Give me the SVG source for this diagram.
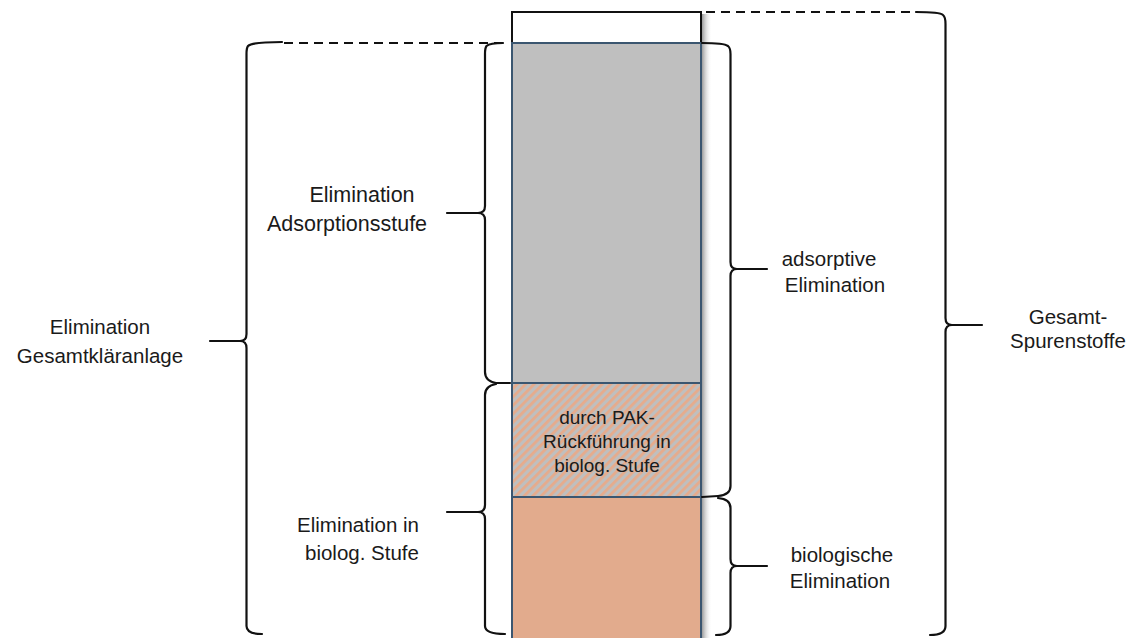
<svg xmlns="http://www.w3.org/2000/svg" width="1130" height="638" viewBox="0 0 1130 638">
  <style>
    .lbl { font-family: "Liberation Sans", Arial, sans-serif; font-size: 20.5px; fill: #1a1a1a; text-anchor: middle; }
    .big { font-size: 21.5px; }
    .inner { font-family: "Liberation Sans", Arial, sans-serif; font-size: 19px; fill: #1a1a1a; text-anchor: middle; }
    .brace { fill: none; stroke: #111; stroke-width: 2.2; stroke-linejoin: round; stroke-linecap: round; }
    .dash { fill: none; stroke: #111; stroke-width: 2; stroke-dasharray: 9 6; }
    .seg { stroke: #3b5670; stroke-width: 2; }
  </style>
  <defs>
    <pattern id="hatch" width="6" height="6" patternUnits="userSpaceOnUse" patternTransform="rotate(45)">
      <rect width="6" height="6" fill="#bfbfbf"/>
      <rect width="2.8" height="6" fill="#e6ab8c"/>
    </pattern>
    <linearGradient id="shade" x1="0" y1="0" x2="1" y2="0">
      <stop offset="0" stop-color="#7a7a7a" stop-opacity="0.75"/>
      <stop offset="1" stop-color="#ffffff" stop-opacity="0"/>
    </linearGradient>
  </defs>

  <rect width="1130" height="638" fill="#ffffff"/>

  <!-- stacked column -->
  <g id="column">
    <rect x="702" y="14" width="10" height="624" fill="url(#shade)"/>
    <rect id="total-box" x="512" y="12" width="189" height="31" fill="#ffffff" stroke="#111" stroke-width="2"/>
    <rect id="adsorptive" class="seg" x="512" y="43" width="189" height="340" fill="#bfbfbf"/>
    <rect id="recirculation" class="seg" x="512" y="383" width="189" height="114" fill="url(#hatch)"/>
    <rect id="biological" class="seg" x="512" y="497" width="189" height="145" fill="#e2ab8d"/>
    <text class="inner" x="607" y="424">durch PAK-</text>
    <text class="inner" x="607" y="448">Rückführung in</text>
    <text class="inner" x="607" y="472">biolog. Stufe</text>
  </g>

  <!-- braces and dashed guide lines -->
  <g id="connectors">
    <line class="dash" x1="284" y1="43" x2="503" y2="43"/>
    <line class="dash" x1="706" y1="12" x2="916" y2="12"/>

    <!-- left: whole plant -->
    <path class="brace" d="M282,42 Q252,42 248,46 Q246.5,48 246.5,54 L246.5,334 Q246.5,341 240,341 L210,341 M240,341 Q246.5,341 246.5,348 L246.5,626 Q246.5,634 262,634"/>
    <!-- left: adsorption stage -->
    <path class="brace" d="M503,43 Q490,43 486.5,46 Q485,48 485,54 L485,206 Q485,213 478,213 L447,213 M478,213 Q485,213 485,220 L485,372 Q485,381 496,383 L510,383"/>
    <!-- left: biological stage -->
    <path class="brace" d="M496,384 Q485,386 485,395 L485,505 Q485,512 478,512 L447,512 M478,512 Q485,512 485,519 L485,626 Q485,634 505,634"/>

    <!-- right: adsorptive elimination -->
    <path class="brace" d="M702,43 Q724,43 728,46 Q730.5,48 730.5,54 L730.5,262 Q730.5,269 737,269 L767,269 M737,269 Q730.5,269 730.5,276 L730.5,486 Q730.5,495 718,496 L702,497"/>
    <!-- right: biological elimination -->
    <path class="brace" d="M718,498 Q730.5,499 730.5,508 L730.5,559 Q730.5,566 737,566 L767,566 M737,566 Q730.5,566 730.5,573 L730.5,626 Q730.5,635 716,635"/>
    <!-- right: total trace substances -->
    <path class="brace" d="M916,12 Q940,12 943,15 Q945.5,17 945.5,24 L945.5,318 Q945.5,325 952,325 L982,325 M952,325 Q945.5,325 945.5,332 L945.5,626 Q945.5,635 930,635"/>
  </g>

  <g id="label-plant">
    <text class="lbl" x="100" y="334">Elimination</text>
    <text class="lbl" x="100" y="363">Gesamtkläranlage</text>
  </g>
  <g id="label-adsorption-stage">
    <text class="lbl big" x="362" y="202">Elimination</text>
    <text class="lbl big" x="347" y="231">Adsorptionsstufe</text>
  </g>
  <g id="label-bio-stage">
    <text class="lbl" x="358" y="532">Elimination in</text>
    <text class="lbl" x="362" y="560">biolog. Stufe</text>
  </g>
  <g id="label-adsorptive">
    <text class="lbl" x="829" y="266">adsorptive</text>
    <text class="lbl" x="835" y="292">Elimination</text>
  </g>
  <g id="label-biological">
    <text class="lbl" x="842" y="562">biologische</text>
    <text class="lbl" x="840" y="588">Elimination</text>
  </g>
  <g id="label-total">
    <text class="lbl" x="1068" y="324">Gesamt-</text>
    <text class="lbl" x="1068" y="348">Spurenstoffe</text>
  </g>
</svg>
